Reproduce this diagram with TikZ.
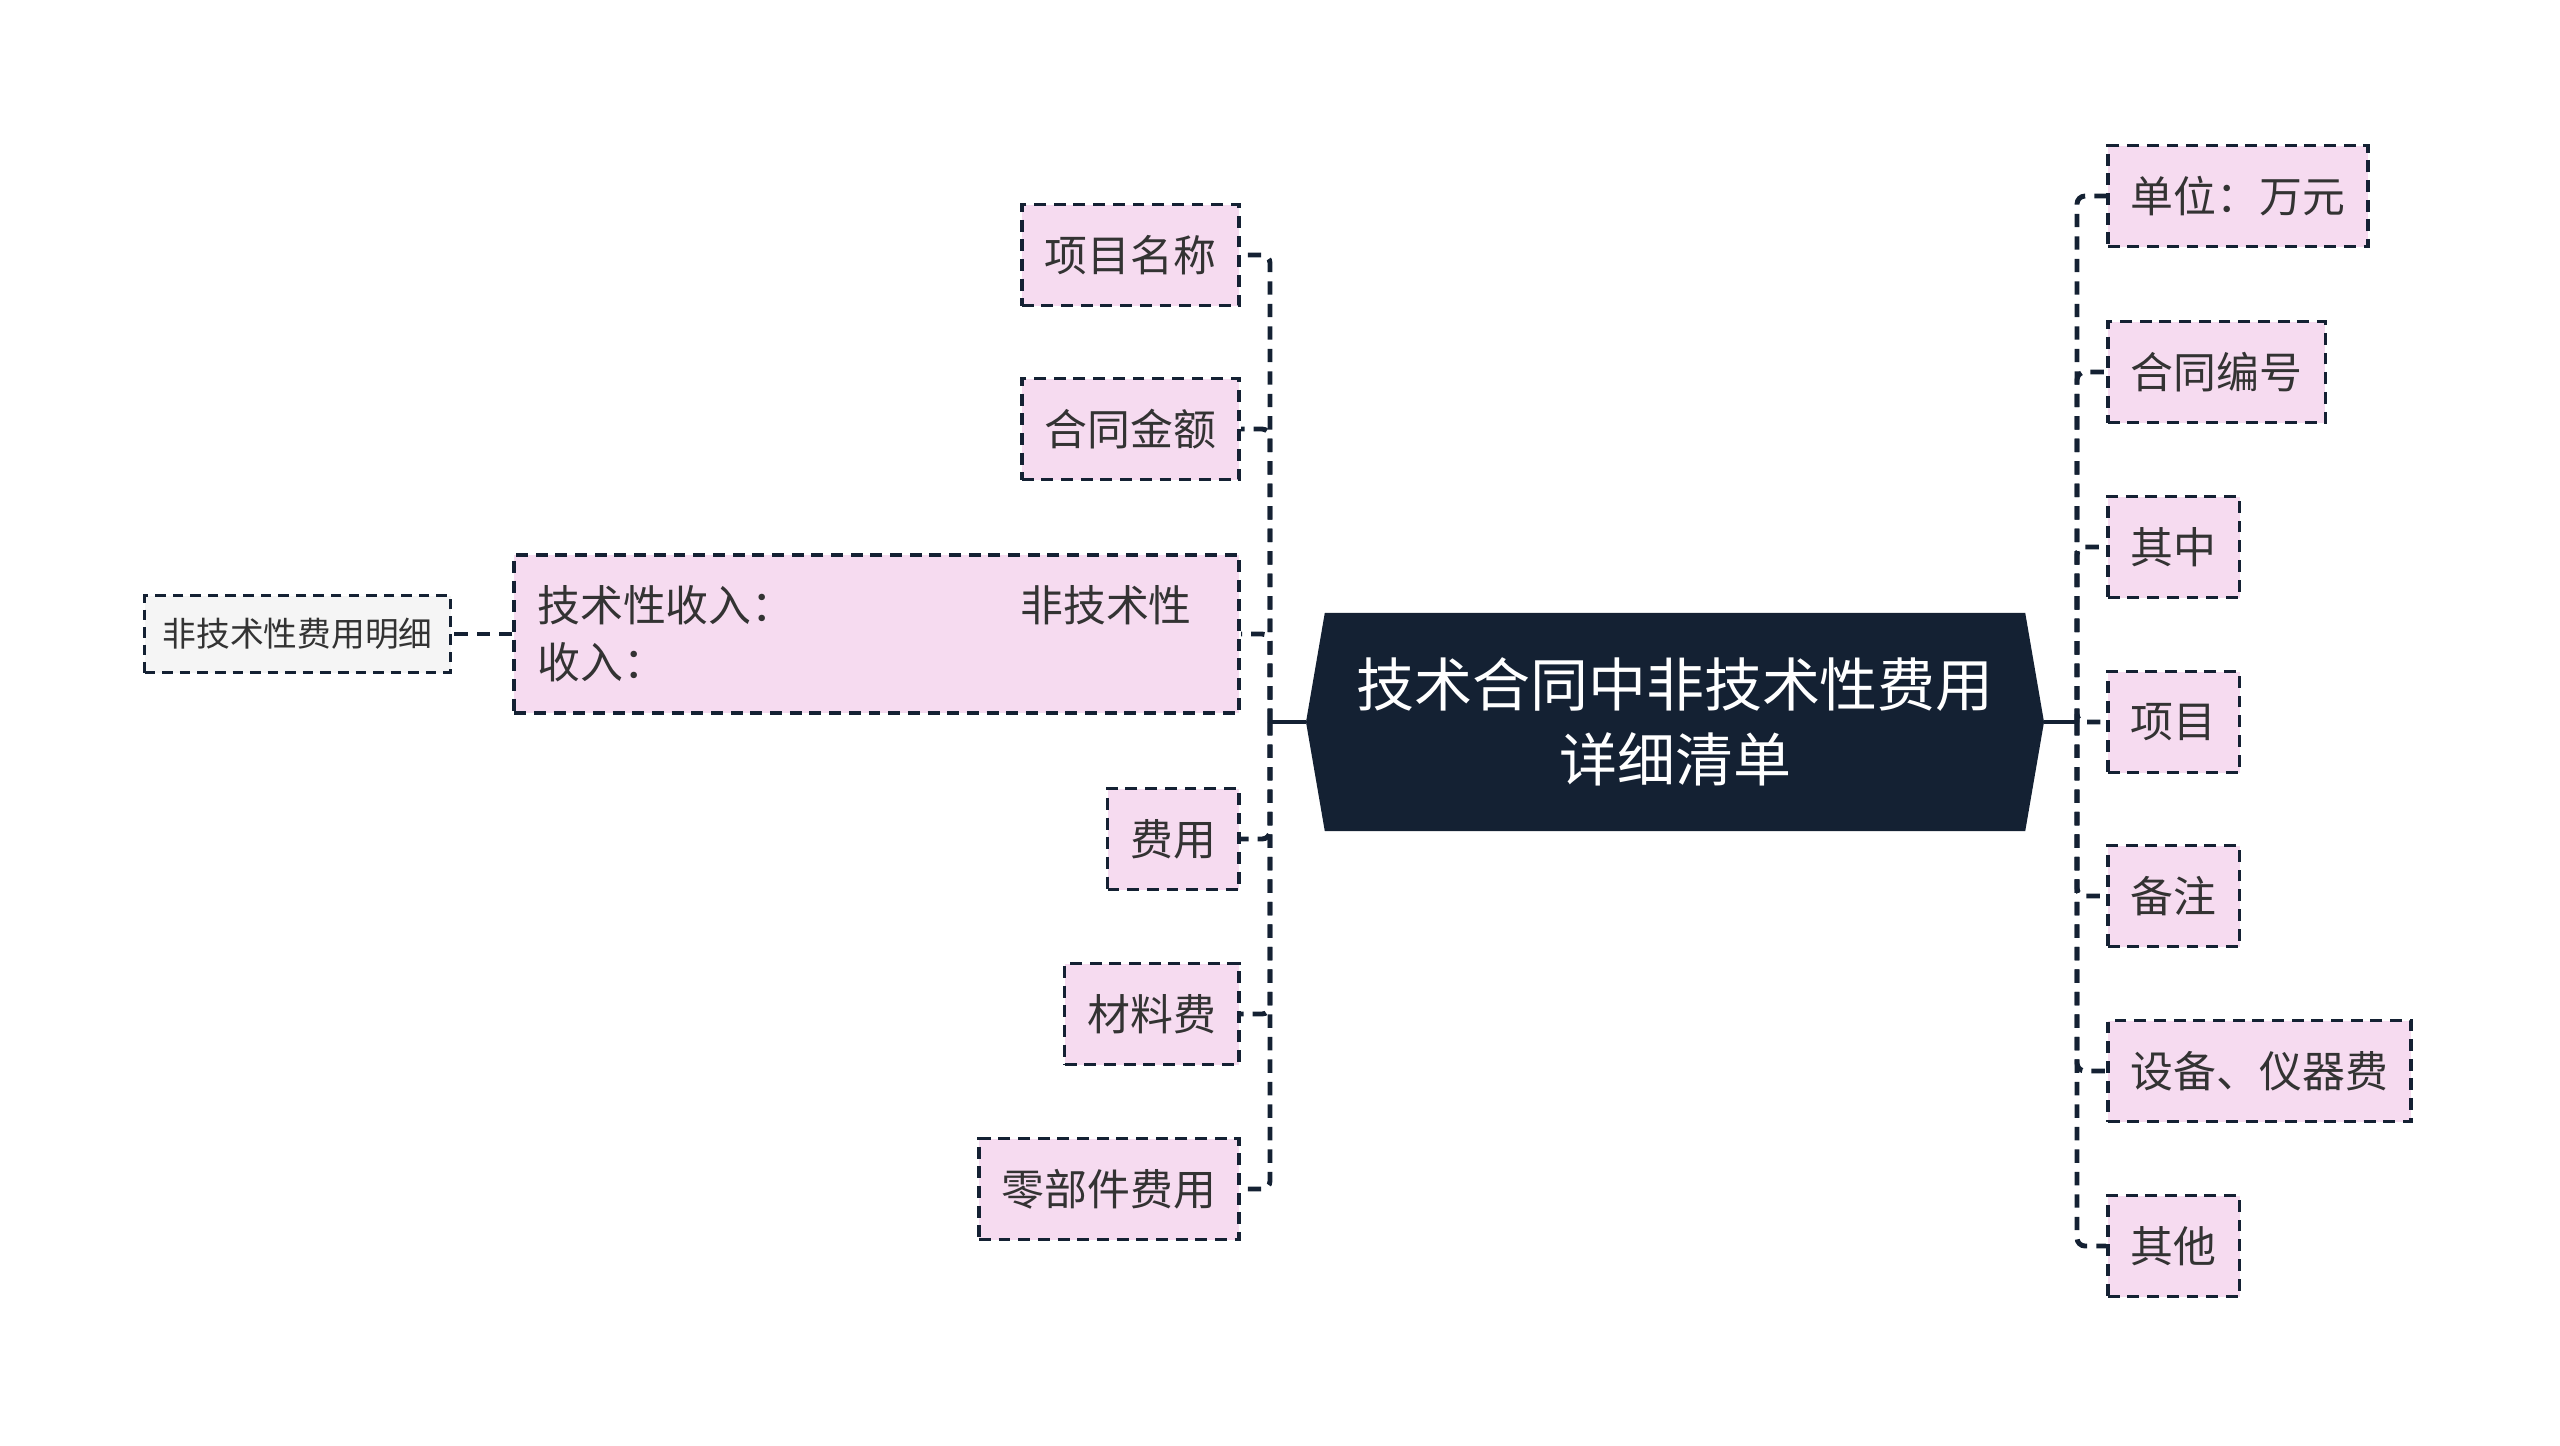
\documentclass[tikz,border=0pt]{standalone}
\usepackage{fontspec}
\setmainfont{Noto Sans CJK SC}
\usetikzlibrary{backgrounds}
\definecolor{navy}{RGB}{20,33,51}
\definecolor{leafpink}{RGB}{246,219,240}
\definecolor{leafgrey}{RGB}{245,245,245}
\definecolor{ink}{RGB}{51,51,51}
\tikzset{
         leaf/.style=
          {
           draw=navy,fill=leafpink,line width=1pt,
           dash pattern=on 3.4pt off 2.2pt,
           minimum height=1.01cm,inner xsep=0.23cm,
           text=ink,font=\fontsize{12.2}{16.2}\selectfont
          },
         subleaf/.style=
          {
           draw=navy,fill=leafgrey,line width=0.8pt,
           dash pattern=on 3pt off 2pt,
           minimum height=0.77cm,inner xsep=0.18cm,
           text=ink,font=\fontsize{9.6}{12}\selectfont
          },
         root/.style=
          {
           text=white,align=center,minimum width=6.99cm,minimum height=2.17cm,
           font=\fontsize{16.5}{21.3}\selectfont
          },
         link/.style={draw=navy,line width=1.4pt,dash pattern=on 3.8pt off 2.6pt,rounded corners=0.08cm},
         stem/.style={draw=navy,line width=1.4pt}
        }

\begin{document}
\begin{tikzpicture}
\useasboundingbox(0,0)rectangle(25.6,-14.45);
%central topic
\node[root](root)at(16.75,-7.22){技术合同中非技术性费用\\详细清单};
\coordinate(lp)at(13.06,-7.22);
\coordinate(rp)at(20.44,-7.22);
\begin{scope}[on background layer]
\fill[navy](root.north west)--(root.north east)--(rp)--(root.south east)--(root.south west)--(lp)--cycle;
\end{scope}
%left topics
\node[leaf,anchor=east](xmmc)at(12.41,-2.55){项目名称};
\node[leaf,anchor=east](htje)at(12.41,-4.29){合同金额};
\node[leaf,anchor=east,minimum height=1.58cm,text width=6.79cm,align=left](srmx)at(12.41,-6.34){\makebox[4.83cm][l]{技术性收入：}非技术性\\收入：};
\node[leaf,anchor=east](fy)at(12.41,-8.39){费用};
\node[leaf,anchor=east](clf)at(12.41,-10.14){材料费};
\node[leaf,anchor=east](ljj)at(12.41,-11.89){零部件费用};
\node[subleaf,anchor=east](fjs)at(4.52,-6.34){非技术性费用明细};
%right topics
\node[leaf,anchor=west](dw)at(21.06,-1.96){单位：万元};
\node[leaf,anchor=west](bh)at(21.06,-3.72){合同编号};
\node[leaf,anchor=west](qz)at(21.06,-5.47){其中};
\node[leaf,anchor=west](xm)at(21.06,-7.22){项目};
\node[leaf,anchor=west](bz)at(21.06,-8.96){备注};
\node[leaf,anchor=west](sb)at(21.06,-10.71){设备、仪器费};
\node[leaf,anchor=west](qt)at(21.06,-12.46){其他};
%left connectors
\coordinate(ltrunk)at(12.70,-7.22);
\draw[stem](lp)--(ltrunk);
\foreach \n in {xmmc,htje,srmx,fy,clf,ljj}{
\draw[link](ltrunk)|-(\n.east);
}
\draw[link](srmx.west)--(fjs.east);
%right connectors
\coordinate(rtrunk)at(20.77,-7.22);
\draw[stem](rp)--(rtrunk);
\foreach \n in {dw,bh,qz,xm,bz,sb,qt}{
\draw[link](rtrunk)|-(\n.west);
}
\end{tikzpicture}
\end{document}
